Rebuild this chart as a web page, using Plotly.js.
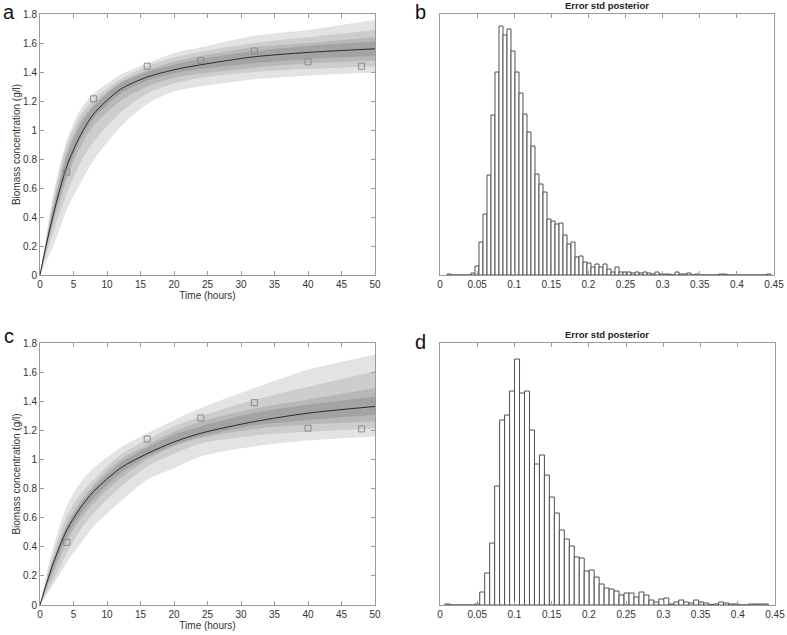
<!DOCTYPE html>
<html>
<head>
<meta charset="utf-8">
<script src="https://cdn.plot.ly/plotly-3.0.1.min.js"></script>
<style>html,body{margin:0;padding:0;background:#fff;}#chart{width:787px;height:635px;}</style>
</head>
<body>
<div id="chart"></div>
<script>
// ---------- Data ----------
const timeGrid = [0, 1, 2, 4, 6, 8, 12, 16, 20, 24, 32, 40, 50];

// Panel a
const medianA   = [0, 0.22, 0.42, 0.75, 0.96, 1.11, 1.28, 1.365, 1.415, 1.45, 1.505, 1.535, 1.56];
const outerUpA  = [0, 0.29, 0.56, 0.93, 1.14, 1.25, 1.38, 1.46, 1.53, 1.57, 1.65, 1.69, 1.76];
const outerLoA  = [0, 0.10, 0.20, 0.45, 0.63, 0.79, 1.02, 1.18, 1.265, 1.30, 1.35, 1.375, 1.396];
const band2UpA  = [0, 0.27, 0.52, 0.90, 1.10, 1.21, 1.35, 1.44, 1.50, 1.54, 1.60, 1.64, 1.69];
const band2LoA  = [0, 0.15, 0.30, 0.56, 0.77, 0.92, 1.12, 1.25, 1.32, 1.36, 1.40, 1.42, 1.44];
const band3UpA  = [0, 0.25, 0.48, 0.85, 1.06, 1.18, 1.33, 1.41, 1.47, 1.51, 1.57, 1.60, 1.64];
const band3LoA  = [0, 0.19, 0.36, 0.66, 0.88, 1.03, 1.20, 1.30, 1.36, 1.39, 1.43, 1.46, 1.48];
const band4UpA  = [0, 0.24, 0.46, 0.82, 1.03, 1.16, 1.32, 1.40, 1.45, 1.49, 1.545, 1.58, 1.61];
const band4LoA  = [0, 0.20, 0.39, 0.70, 0.93, 1.08, 1.25, 1.34, 1.39, 1.42, 1.46, 1.49, 1.51];
const obsTimeA  = [4, 8, 16, 24, 32, 40, 48];
const obsA      = [0.71, 1.215, 1.44, 1.48, 1.545, 1.47, 1.44];

// Panel c
const medianC   = [0, 0.15, 0.29, 0.515, 0.665, 0.78, 0.94, 1.04, 1.12, 1.18, 1.26, 1.318, 1.364];
const outerUpC  = [0, 0.22, 0.40, 0.68, 0.84, 0.94, 1.08, 1.18, 1.27, 1.353, 1.49, 1.617, 1.72];
const outerLoC  = [0, 0.07, 0.14, 0.29, 0.42, 0.54, 0.71, 0.86, 0.94, 1.02, 1.09, 1.13, 1.158];
const band2UpC  = [0, 0.19, 0.355, 0.61, 0.757, 0.86, 1.03, 1.135, 1.227, 1.295, 1.41, 1.50, 1.605];
const band2LoC  = [0, 0.09, 0.17, 0.355, 0.516, 0.63, 0.81, 0.95, 1.04, 1.11, 1.165, 1.19, 1.215];
const band3UpC  = [0, 0.17, 0.32, 0.56, 0.71, 0.825, 1.0, 1.10, 1.19, 1.26, 1.35, 1.41, 1.49];
const band3LoC  = [0, 0.12, 0.22, 0.435, 0.585, 0.70, 0.87, 1.0, 1.09, 1.147, 1.21, 1.24, 1.26];
const band4UpC  = [0, 0.16, 0.305, 0.54, 0.69, 0.80, 0.975, 1.08, 1.17, 1.227, 1.32, 1.376, 1.43];
const band4LoC  = [0, 0.13, 0.25, 0.47, 0.62, 0.734, 0.906, 1.02, 1.10, 1.158, 1.235, 1.27, 1.307];
const obsTimeC  = [4, 16, 24, 32, 40, 48];
const obsC      = [0.43, 1.14, 1.285, 1.39, 1.215, 1.21];

// Panel b histogram (bin structure + counts)
const histBFirstCenter = 0.0121;
const histBBinWidth = 0.00539;
const histBCounts = [1,0,0,0,0,0,
  2,9,33,61,100,160,203,249,240,246,
  224,203,182,161,143,129,101,91,83,56,
  54,51,52,40,31,33,18,19,13,12,
  8,11,8,11,6,3,8,3,3,3,
  2,3,2,3,2,1,3,1,1,1,
  0,3,1,1,2,0,1,0,0,0,
  0,0,1,1,0,0,0,0,0,0,
  0,0,0,0,1];

// Panel d histogram
const histDFirstCenter = 0.0099;
const histDBinWidth = 0.006685;
const histDCounts = [1,0,0,0,0,0,
  1,13,32,62,119,185,190,214,246,212,
  214,175,141,150,130,108,92,75,66,59,
  48,47,34,35,28,21,17,16,14,10,
  12,12,8,13,10,5,3,6,7,1,
  3,5,3,2,5,3,2,0.5,1,3,
  2,1,1,0,0,1,1,1,1];

const xTicksTime = [0,5,10,15,20,25,30,35,40,45,50];
const yTicksConc = [0,0.2,0.4,0.6,0.8,1,1.2,1.4,1.6,1.8];
const xTicksStd  = [0,0.05,0.1,0.15,0.2,0.25,0.3,0.35,0.4,0.45];
const panelLetters = ['a', 'b', 'c', 'd'];
const histTitle = 'Error std posterior';
const xTitle = 'Time (hours)';
const yTitle = 'Biomass concentration (g/l)';

// ---------- Styling ----------
const FONT = 'Liberation Sans, Arial, Helvetica, sans-serif';
const bandColors = ['#e3e3e3', '#cdcdcd', '#b8b8b8', '#a3a3a3'];
const W = 787, H = 635;
function dx(a, b) { return [a / W, b / W]; }
function dy(top, bottom) { return [1 - bottom / H, 1 - top / H]; }

function bandTraces(lo, up, color, xa, ya) {
  return [
    {x: timeGrid, y: lo, mode: 'lines', line: {width: 0, shape: 'spline', smoothing: 0.8, color: color},
     xaxis: xa, yaxis: ya, hoverinfo: 'skip', showlegend: false},
    {x: timeGrid, y: up, mode: 'lines', line: {width: 0, shape: 'spline', smoothing: 0.8, color: color},
     fill: 'tonexty', fillcolor: color, xaxis: xa, yaxis: ya, hoverinfo: 'skip', showlegend: false}
  ];
}

function centers(first, w, n) {
  const out = [];
  for (let i = 0; i < n; i++) out.push(first + i * w);
  return out;
}

const traces = [];
// Panel a
[[outerLoA, outerUpA], [band2LoA, band2UpA], [band3LoA, band3UpA], [band4LoA, band4UpA]].forEach((b, i) => {
  traces.push(...bandTraces(b[0], b[1], bandColors[i], 'x', 'y'));
});
traces.push({x: timeGrid, y: medianA, mode: 'lines', line: {color: '#2b2b2b', width: 1, shape: 'spline', smoothing: 0.8},
  xaxis: 'x', yaxis: 'y', showlegend: false});
traces.push({x: obsTimeA, y: obsA, mode: 'markers',
  marker: {symbol: 'square-open', size: 6, color: '#8a8a8a', line: {width: 1}}, xaxis: 'x', yaxis: 'y', showlegend: false});

// Panel c
[[outerLoC, outerUpC], [band2LoC, band2UpC], [band3LoC, band3UpC], [band4LoC, band4UpC]].forEach((b, i) => {
  traces.push(...bandTraces(b[0], b[1], bandColors[i], 'x3', 'y3'));
});
traces.push({x: timeGrid, y: medianC, mode: 'lines', line: {color: '#2b2b2b', width: 1, shape: 'spline', smoothing: 0.8},
  xaxis: 'x3', yaxis: 'y3', showlegend: false});
traces.push({x: obsTimeC, y: obsC, mode: 'markers',
  marker: {symbol: 'square-open', size: 6, color: '#8a8a8a', line: {width: 1}}, xaxis: 'x3', yaxis: 'y3', showlegend: false});

// Histograms
traces.push({type: 'bar', x: centers(histBFirstCenter, histBBinWidth, histBCounts.length), y: histBCounts,
  width: histBBinWidth, marker: {color: '#ffffff', line: {color: '#505050', width: 1}},
  xaxis: 'x2', yaxis: 'y2', showlegend: false});
traces.push({type: 'bar', x: centers(histDFirstCenter, histDBinWidth, histDCounts.length), y: histDCounts,
  width: histDBinWidth, marker: {color: '#ffffff', line: {color: '#505050', width: 1}},
  xaxis: 'x4', yaxis: 'y4', showlegend: false});

const axisBase = {
  showline: true, mirror: 'ticks', linecolor: '#9a9a9a', linewidth: 1,
  ticks: 'inside', ticklen: 4, tickcolor: '#9a9a9a', tickwidth: 1,
  showgrid: false, zeroline: false,
  tickfont: {family: FONT, size: 10, color: '#333'}
};
const titleFont = {family: FONT, size: 10, color: '#333'};
const letterFont = {family: FONT, size: 20, color: '#111'};

const layout = {
  width: W, height: H,
  margin: {l: 0, r: 0, t: 0, b: 0},
  paper_bgcolor: '#fff', plot_bgcolor: '#fff',
  bargap: 0,
  font: {family: FONT, color: '#333'},
  xaxis: Object.assign({}, axisBase, {domain: dx(40, 375), anchor: 'y', range: [0, 50], tickvals: xTicksTime,
    title: {text: xTitle, font: titleFont, standoff: 2}}),
  yaxis: Object.assign({}, axisBase, {domain: dy(14, 275), anchor: 'x', range: [0, 1.8], tickvals: yTicksConc,
    title: {text: yTitle, font: titleFont, standoff: 0}}),
  xaxis2: Object.assign({}, axisBase, {domain: dx(440, 774), anchor: 'y2', range: [0, 0.45], tickvals: xTicksStd}),
  yaxis2: Object.assign({}, axisBase, {domain: dy(14, 275), anchor: 'x2', range: [0, 261], ticks: '', showticklabels: false, mirror: true}),
  xaxis3: Object.assign({}, axisBase, {domain: dx(40, 375), anchor: 'y3', range: [0, 50], tickvals: xTicksTime,
    title: {text: xTitle, font: titleFont, standoff: 2}}),
  yaxis3: Object.assign({}, axisBase, {domain: dy(343, 605), anchor: 'x3', range: [0, 1.8], tickvals: yTicksConc,
    title: {text: yTitle, font: titleFont, standoff: 0}}),
  xaxis4: Object.assign({}, axisBase, {domain: dx(440, 775), anchor: 'y4', range: [0, 0.45], tickvals: xTicksStd}),
  yaxis4: Object.assign({}, axisBase, {domain: dy(343, 605), anchor: 'x4', range: [0, 262], ticks: '', showticklabels: false, mirror: true}),
  annotations: [
    {text: panelLetters[0], x: 8.5 / W, y: 1, xref: 'paper', yref: 'paper', xanchor: 'center', yanchor: 'top', borderpad: 0, showarrow: false, font: letterFont},
    {text: panelLetters[1], x: 420 / W, y: 1, xref: 'paper', yref: 'paper', xanchor: 'center', yanchor: 'top', borderpad: 0, showarrow: false, font: letterFont},
    {text: panelLetters[2], x: 8.5 / W, y: 1 - 349 / H, xref: 'paper', yref: 'paper', xanchor: 'center', yanchor: 'bottom', showarrow: false, font: letterFont},
    {text: panelLetters[3], x: 420 / W, y: 1 - 355 / H, xref: 'paper', yref: 'paper', xanchor: 'center', yanchor: 'bottom', showarrow: false, font: letterFont},
    {text: '<b>' + histTitle + '</b>', x: 607 / W, y: 1 - 13 / H, xref: 'paper', yref: 'paper', xanchor: 'center', yanchor: 'bottom', showarrow: false, font: {family: FONT, size: 9.5, color: '#222'}},
    {text: '<b>' + histTitle + '</b>', x: 607 / W, y: 1 - 342 / H, xref: 'paper', yref: 'paper', xanchor: 'center', yanchor: 'bottom', showarrow: false, font: {family: FONT, size: 9.5, color: '#222'}}
  ]
};

Plotly.newPlot('chart', traces, layout, {staticPlot: true, displayModeBar: false});
</script>
</body>
</html>
